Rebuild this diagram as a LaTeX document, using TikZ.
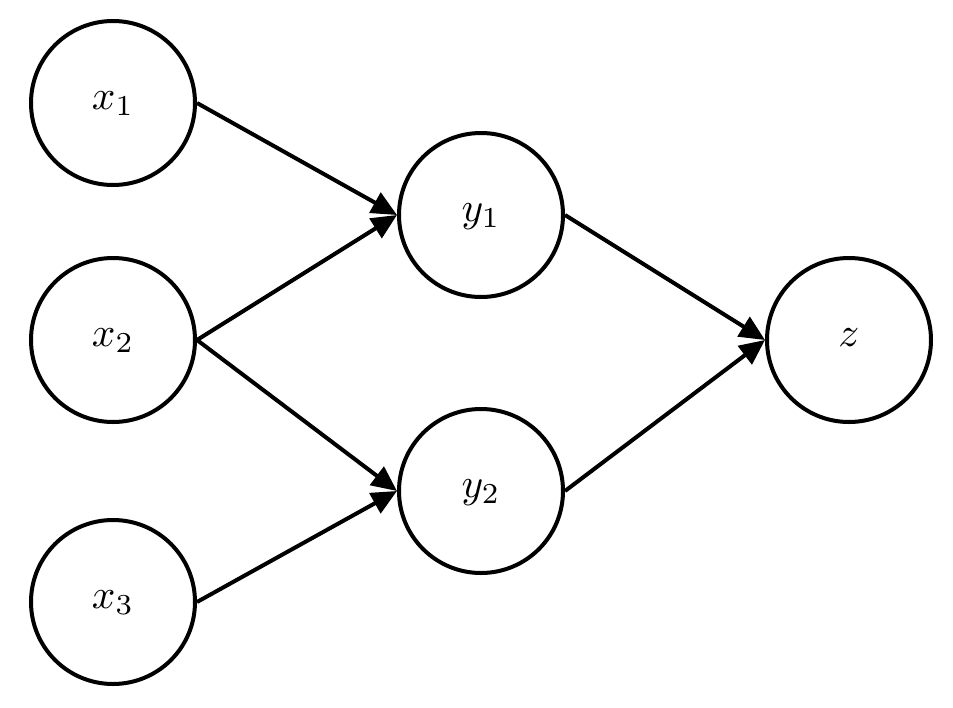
\documentclass[tikz,border=0pt]{standalone}
\usepackage{graphicx}
\usetikzlibrary{arrows.meta}
\newcommand{\nlabel}[1]{\scalebox{3.1}{$#1$}}
\begin{document}
\begin{tikzpicture}[x=0.75pt,y=-0.75pt,
  neuron/.style={circle,draw=black,line width=3pt,minimum size=123pt,inner sep=0pt,text height=15pt,text depth=5pt},
  conn/.style={line width=3pt,-{Triangle[length=19pt,width=17pt]}}]
\useasboundingbox[fill=white] (0,0) rectangle (953,707);
\node[neuron] (x1) at (113,103) {\nlabel{x_1}};
\node[neuron] (x2) at (113,340) {\nlabel{x_2}};
\node[neuron] (x3) at (113,602) {\nlabel{x_3}};
\node[neuron] (y1) at (481,215) {\nlabel{y_1}};
\node[neuron] (y2) at (481,491) {\nlabel{y_2}};
\node[neuron] (z) at (849,340) {\nlabel{z}};
\draw[conn] (x1.east) -- (y1.west);
\draw[conn] (x2.east) -- (y1.west);
\draw[conn] (x2.east) -- (y2.west);
\draw[conn] (x3.east) -- (y2.west);
\draw[conn] (y1.east) -- (z.west);
\draw[conn] (y2.east) -- (z.west);
\end{tikzpicture}
\end{document}
